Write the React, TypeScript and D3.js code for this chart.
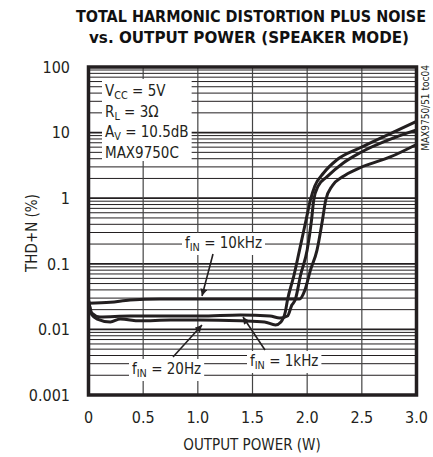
import React, { useRef, useEffect } from 'react';
import * as d3 from 'd3';

// axis ticks
const xTicks = [0, 0.5, 1.0, 1.5, 2.0, 2.5, 3.0];
const xTickLabels = ['0', '0.5', '1.0', '1.5', '2.0', '2.5', '3.0'];
const yTicks = [100, 10, 1, 0.1, 0.01, 0.001];
const yTickLabels = ['100', '10', '1', '0.1', '0.01', '0.001'];

// fIN = 20Hz
const power20Hz = [0, 0.03, 0.08, 0.2, 0.29, 0.47, 0.75, 1.02, 1.39, 1.61, 1.71, 1.76, 1.8, 1.82, 1.88, 1.93, 1.99, 2.03, 2.07, 2.15, 2.27, 2.48, 2.79, 3.0];
const thd20Hz = [0.028, 0.0167, 0.0144, 0.013, 0.0144, 0.0135, 0.0139, 0.0139, 0.0135, 0.013, 0.0117, 0.013, 0.0184, 0.028, 0.0675, 0.162, 0.466, 0.94, 1.53, 2.42, 3.82, 5.82, 10.2, 14.8];

// fIN = 1kHz
const power1kHz = [0, 0.03, 0.105, 0.38, 1.02, 1.39, 1.66, 1.75, 1.82, 1.86, 1.89, 1.94, 2.0, 2.04, 2.06, 2.1, 2.18, 2.33, 2.48, 2.79, 3.0];
const thd1kHz = [0.028, 0.0178, 0.0155, 0.016, 0.016, 0.0166, 0.016, 0.0149, 0.016, 0.0235, 0.028, 0.0675, 0.162, 0.466, 0.94, 1.53, 2.11, 3.44, 4.89, 8.27, 11.0];

// fIN = 10kHz
const power10kHz = [0, 0.2, 0.38, 0.65, 1.48, 1.93, 1.98, 2.03, 2.09, 2.14, 2.17, 2.23, 2.32, 2.48, 2.76, 3.0];
const thd10kHz = [0.025, 0.026, 0.028, 0.029, 0.029, 0.029, 0.04, 0.08, 0.162, 0.466, 0.94, 1.55, 2.1, 2.9, 4.25, 6.6];

const series = [
  { name: '20Hz', p: power20Hz, v: thd20Hz },
  { name: '1kHz', p: power1kHz, v: thd1kHz },
  { name: '10kHz', p: power10kHz, v: thd10kHz },
];

const FONT = "'Liberation Sans Narrow', 'DejaVu Sans Condensed', 'Arial Narrow', sans-serif";
const INK = '#231f20';

type Part = [string, boolean];

const App: React.FC = () => {
  const svgRef = useRef<SVGSVGElement | null>(null);

  useEffect(() => {
    document.body.style.margin = '0';
    const svg = d3.select(svgRef.current);
    svg.selectAll('*').remove();

    const margin = { top: 67, left: 88.5 };
    const width = 328;
    const height = 328;

    const x = d3.scaleLinear().domain([0, 3]).range([margin.left, margin.left + width]);
    const y = d3.scaleLog().domain([0.001, 100]).range([margin.top + height, margin.top]);

    svg.append('rect').attr('width', 433).attr('height', 457).attr('fill', 'white');

    // title
    const title = svg.append('g').attr('font-family', FONT).attr('font-weight', 'bold')
      .attr('font-size', 16).attr('fill', '#111');
    title.append('text').attr('x', 76).attr('y', 22).attr('textLength', 350)
      .attr('lengthAdjust', 'spacingAndGlyphs').text('TOTAL HARMONIC DISTORTION PLUS NOISE');
    title.append('text').attr('x', 89).attr('y', 43).attr('textLength', 320)
      .attr('lengthAdjust', 'spacingAndGlyphs').text('vs. OUTPUT POWER (SPEAKER MODE)');

    // grid
    const grid = svg.append('g');
    const minor: number[] = [];
    for (let d = -3; d < 2; d++) {
      for (let k = 2; k <= 9; k++) minor.push(k * Math.pow(10, d));
    }
    grid.selectAll('.minor').data(minor).enter().append('line')
      .attr('x1', margin.left).attr('x2', margin.left + width)
      .attr('y1', d => y(d)).attr('y2', d => y(d))
      .attr('stroke', INK).attr('stroke-width', 1);
    grid.selectAll('.major').data(yTicks.slice(1, -1)).enter().append('line')
      .attr('x1', margin.left).attr('x2', margin.left + width)
      .attr('y1', d => y(d)).attr('y2', d => y(d))
      .attr('stroke', INK).attr('stroke-width', 1.8);
    grid.selectAll('.vert').data(xTicks.slice(1, -1)).enter().append('line')
      .attr('x1', d => x(d)).attr('x2', d => x(d))
      .attr('y1', margin.top).attr('y2', margin.top + height)
      .attr('stroke', '#444').attr('stroke-width', 1.2);

    // label helper
    const label = (parent: any, lx: number, ly: number, parts: Part[], fs = 15) => {
      const g = parent.append('g');
      const t = g.append('text').attr('x', lx).attr('y', ly)
        .attr('font-family', FONT).attr('font-size', fs).attr('fill', INK);
      let shifted = false;
      parts.forEach(([s, sub]) => {
        const ts = t.append('tspan').text(s);
        if (sub && !shifted) { ts.attr('dy', 3).attr('font-size', fs * 0.72); shifted = true; }
        else if (sub) { ts.attr('font-size', fs * 0.72); }
        else if (shifted) { ts.attr('dy', -3); shifted = false; }
      });
      return { g, t };
    };

    const boxed = (lx: number, ly: number, parts: Part[], padX = 3, padY = 1) => {
      const { g, t } = label(svg, lx, ly, parts);
      const bb = (t.node() as SVGTextElement).getBBox();
      g.insert('rect', 'text').attr('x', bb.x - padX).attr('y', bb.y - padY)
        .attr('width', bb.width + padX * 2).attr('height', bb.height + padY * 2).attr('fill', 'white');
    };

    // parameter box
    const paramG = svg.append('g');
    const paramRect = paramG.append('rect').attr('fill', 'white');
    const lines: Part[][] = [
      [['V', false], ['CC', true], [' = 5V', false]],
      [['R', false], ['L', true], [' = 3Ω', false]],
      [['A', false], ['V', true], [' = 10.5dB', false]],
      [['MAX9750C', false]],
    ];
    const boxes: DOMRect[] = [];
    lines.forEach((parts, i) => {
      const { t } = label(paramG, 105, 96 + i * 20.5, parts);
      boxes.push((t.node() as SVGTextElement).getBBox());
    });
    const bx0 = d3.min(boxes, b => b.x)! - 3;
    const bx1 = d3.max(boxes, b => b.x + b.width)! + 3;
    paramRect.attr('x', bx0).attr('y', 79).attr('width', bx1 - bx0).attr('height', 82);

    boxed(185, 248, [['f', false], ['IN', true], [' = 10kHz', false]]);
    boxed(132, 374, [['f', false], ['IN', true], [' = 20Hz', false]]);
    boxed(250, 366, [['f', false], ['IN', true], [' = 1kHz', false]]);

    // curves
    const line = d3.line<[number, number]>()
      .x(d => x(d[0])).y(d => y(d[1]))
      .curve(d3.curveMonotoneX);
    svg.append('g').selectAll('path').data(series).enter().append('path')
      .attr('d', s => line(s.p.map((p, i) => [p, s.v[i]] as [number, number])))
      .attr('fill', 'none').attr('stroke', INK).attr('stroke-width', 3)
      .attr('stroke-linejoin', 'round');

    // arrows
    const defs = svg.append('defs');
    defs.append('marker').attr('id', 'arrow').attr('viewBox', '0 0 10 10')
      .attr('refX', 10).attr('refY', 5).attr('markerWidth', 9).attr('markerHeight', 7)
      .attr('markerUnits', 'userSpaceOnUse').attr('orient', 'auto')
      .append('path').attr('d', 'M0,0 L10,5 L0,10 z').attr('fill', INK);
    const arrows = [
      [213, 254, 202, 296],
      [173, 357, 202, 325],
      [265, 350, 243, 317],
    ];
    svg.append('g').selectAll('line').data(arrows).enter().append('line')
      .attr('x1', d => d[0]).attr('y1', d => d[1]).attr('x2', d => d[2]).attr('y2', d => d[3])
      .attr('stroke', INK).attr('stroke-width', 1.6).attr('marker-end', 'url(#arrow)');

    // frame
    svg.append('rect').attr('x', margin.left).attr('y', margin.top)
      .attr('width', width).attr('height', height)
      .attr('fill', 'none').attr('stroke', INK).attr('stroke-width', 3.5);

    // tick labels
    const ticks = svg.append('g').attr('font-family', FONT).attr('font-size', 16).attr('fill', INK);
    ticks.selectAll('.yt').data(yTicks).enter().append('text')
      .attr('x', 70).attr('y', d => y(d)).attr('dy', '0.36em').attr('text-anchor', 'end')
      .text((d, i) => yTickLabels[i]);
    ticks.selectAll('.xt').data(xTicks).enter().append('text')
      .attr('x', d => x(d)).attr('y', 423).attr('text-anchor', 'middle')
      .text((d, i) => xTickLabels[i]);

    // axis titles
    svg.append('text').attr('x', 252).attr('y', 450).attr('text-anchor', 'middle')
      .attr('font-family', FONT).attr('font-size', 15).attr('fill', INK).text('OUTPUT POWER (W)');
    svg.append('text').attr('transform', 'translate(37,233) rotate(-90)').attr('text-anchor', 'middle')
      .attr('font-family', FONT).attr('font-size', 15).attr('fill', INK).text('THD+N (%)');

    // figure id
    svg.append('text').attr('transform', 'translate(429,108) rotate(-90)').attr('text-anchor', 'middle')
      .attr('font-family', FONT).attr('font-size', 10).attr('fill', INK).text('MAX9750/51 toc04');
  }, []);

  return (
    <div style={{ position: 'absolute', left: 0, top: 0 }}>
      <svg ref={svgRef} width={433} height={457} style={{ display: 'block' }}></svg>
    </div>
  );
};

export default App;
